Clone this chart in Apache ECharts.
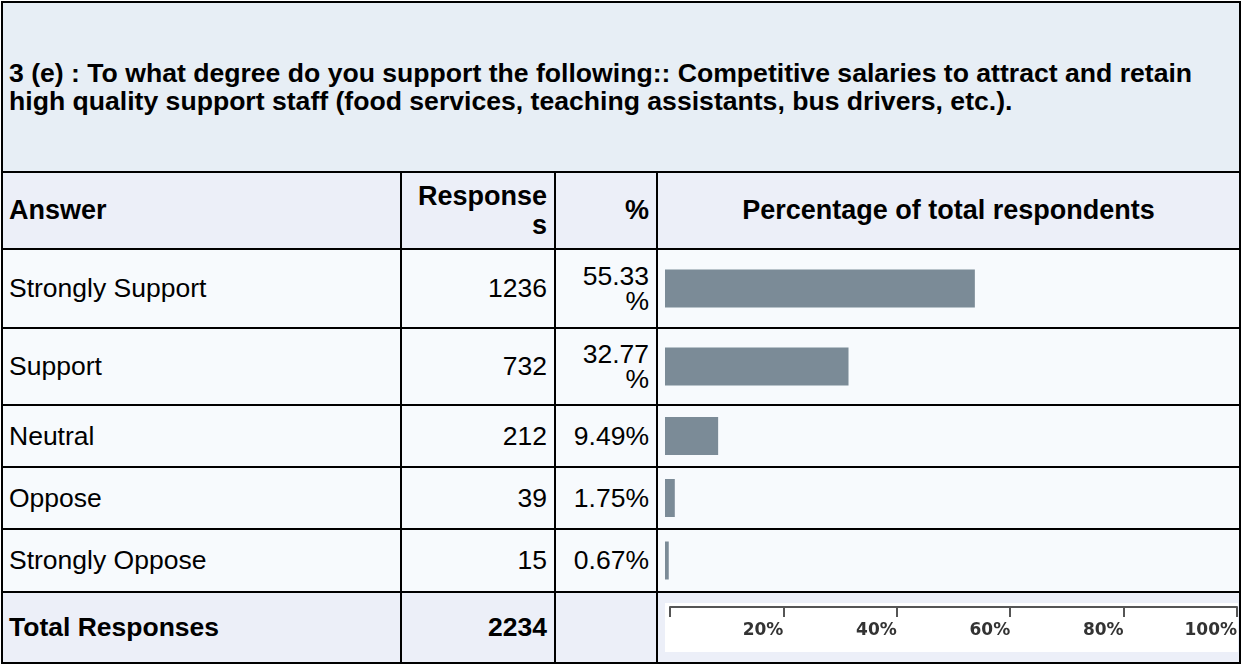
<!DOCTYPE html>
<html>
<head>
<meta charset="utf-8">
<script src="https://cdn.jsdelivr.net/npm/echarts@6/dist/echarts.min.js"></script>
<style>
  html, body { margin: 0; padding: 0; background: #fff; }
  .sheet {
    position: absolute; left: 1px; top: 1px;
    display: grid;
    grid-template-columns: 397px 152px 100px 581px;
    grid-template-rows: 168px 75px 77px 75px 60px 60px 61px 69px;
    gap: 2px; padding: 2px; background: #000;
    font-family: "Liberation Sans", Arial, sans-serif; color: #000;
  }
  .sheet > div { display: flex; align-items: center; box-sizing: border-box; white-space: nowrap; }
  .title { grid-column: 1 / 5; background: #e7eef5; font-weight: bold; font-size: 26.6px; line-height: 28px; padding: 0 6px; }
  .head { background: #eceff8; font-weight: bold; font-size: 27px; line-height: 29px; }
  .body { background: #f7fafd; font-size: 26.5px; line-height: 25px; }
  .foot { background: #eceff8; font-weight: bold; font-size: 26.5px; }
  .l { padding-left: 6px; }
  .r { justify-content: flex-end; text-align: right; padding-right: 7px; }
  .c { justify-content: center; }
  .scale { position: absolute; left: 665px; top: 603px; width: 573px; height: 49px; background: #fff; }
  #chart { position: absolute; left: 0; top: 0; width: 1242px; height: 665px; pointer-events: none; }
</style>
</head>
<body>
<div class="sheet" id="sheet"></div>
<div class="scale"></div>
<div id="chart"></div>
<script>
  // data
  var question = '3 (e) : To what degree do you support the following:: Competitive salaries to attract and retain<br>high quality support staff (food services, teaching assistants, bus drivers, etc.).'
  var answers = ['Strongly Support', 'Support', 'Neutral', 'Oppose', 'Strongly Oppose']
  var responses = [1236, 732, 212, 39, 15]
  var percents = [55.33, 32.77, 9.49, 1.75, 0.67]
  var totalResponses = 2234

  // row tops / heights of the answer rows (cell boxes inside the borders)
  var rowTops = [250, 329, 406, 468, 530]
  var rowHeights = [77, 75, 60, 60, 61]

  function pctText (p) {
    var s = p.toFixed(2)
    // the narrow column wraps the long ones
    return s.length > 4 ? s + '<br>%' : s + '%'
  }

  var html = ''
  html += '<div class="title">' + question + '</div>'
  html += '<div class="head l">Answer</div>'
  html += '<div class="head r">Response<br>s</div>'
  html += '<div class="head r">%</div>'
  html += '<div class="head c">Percentage of total respondents</div>'
  answers.forEach(function (a, i) {
    html += '<div class="body l">' + a + '</div>'
    html += '<div class="body r">' + responses[i] + '</div>'
    html += '<div class="body r">' + pctText(percents[i]) + '</div>'
    html += '<div class="body"></div>'
  })
  html += '<div class="foot l">Total Responses</div>'
  html += '<div class="foot r">' + totalResponses + '</div>'
  html += '<div class="foot"></div>'
  html += '<div class="foot"></div>'
  document.getElementById('sheet').innerHTML = html

  var myChart = echarts.init(document.getElementById('chart'))
  var grids = []
  var xAxes = []
  var yAxes = []
  var series = []
  answers.forEach(function (a, i) {
    grids.push({ left: 665, width: 560, top: rowTops[i], height: rowHeights[i], outerBoundsMode: 'none' })
    xAxes.push({ gridIndex: i, type: 'value', min: 0, max: 100, show: false })
    yAxes.push({ gridIndex: i, type: 'category', data: [a], show: false })
    series.push({
      type: 'bar',
      xAxisIndex: i,
      yAxisIndex: i,
      data: [percents[i]],
      barWidth: 38,
      itemStyle: { color: '#7b8b97' },
      animation: false
    })
  })
  // scale strip in the total row
  grids.push({ left: 670, width: 567, top: 607, height: 40, outerBoundsMode: 'none' })
  xAxes.push({
    gridIndex: 5,
    type: 'value',
    position: 'top',
    min: 0,
    max: 100,
    interval: 20,
    splitLine: { show: false },
    axisLine: { show: true, lineStyle: { color: '#555', width: 2 } },
    axisTick: { show: true, inside: true, length: 10, lineStyle: { color: '#555', width: 2 } },
    axisLabel: {
      inside: true,
      margin: 15,
      align: 'right',
      verticalAlign: 'top',
      color: '#333',
      fontWeight: 'bold',
      fontSize: 17,
      fontFamily: 'DejaVu Sans',
      formatter: function (v) { return v === 0 ? '' : v + '%' }
    }
  })
  yAxes.push({ gridIndex: 5, type: 'category', data: [''], show: false })

  myChart.setOption({
    animation: false,
    grid: grids,
    xAxis: xAxes,
    yAxis: yAxes,
    series: series
  })
</script>
</body>
</html>
